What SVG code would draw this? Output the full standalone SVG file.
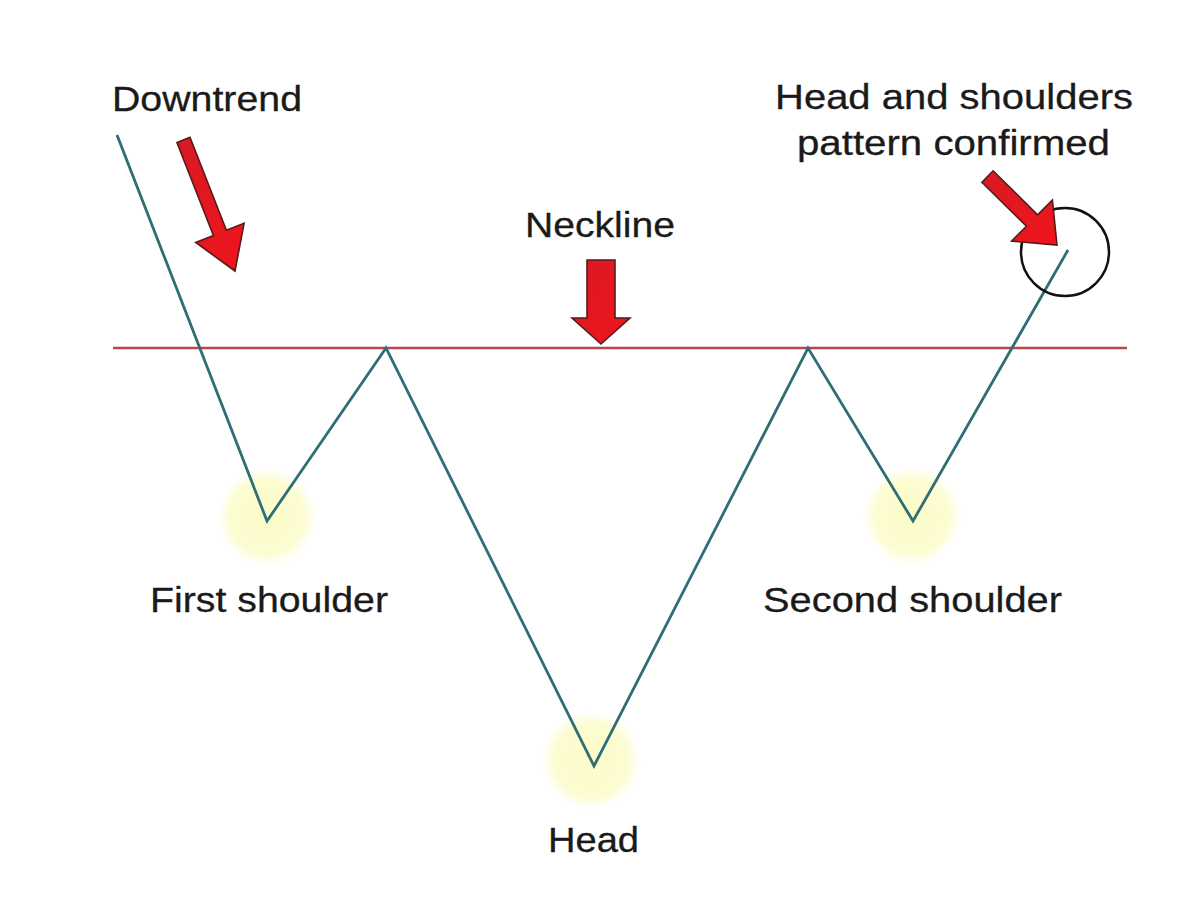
<svg xmlns="http://www.w3.org/2000/svg" width="1200" height="900" viewBox="0 0 1200 900">
<style>
.lbl{font-family:"Liberation Sans",Arial,sans-serif;font-size:35px;fill:#1a1a1a;stroke:#1a1a1a;stroke-width:0.3;text-anchor:start}
.arrow{fill:url(#redg);stroke:#5a1a1a;stroke-width:1.6;stroke-linejoin:miter}
.glow{fill:url(#glowg)}
.price{fill:none;stroke:#2f6e74;stroke-width:2.8;stroke-linejoin:miter}
.neck{stroke:#b8464c;stroke-width:2.4}
</style>
<defs>
<radialGradient id="glowg">
<stop offset="0" stop-color="#fbfbc8"/>
<stop offset="0.75" stop-color="#fcfcce" stop-opacity="0.9"/>
<stop offset="1" stop-color="#fdfde2" stop-opacity="0"/>
</radialGradient>
<linearGradient id="redg" x1="0" y1="0" x2="1" y2="1">
<stop offset="0" stop-color="#d81a24"/>
<stop offset="1" stop-color="#f0141c"/>
</linearGradient>
</defs>
<rect width="1200" height="900" fill="#ffffff"/>
<g id="glows">
<circle class="glow" cx="267" cy="517" r="50"/>
<circle class="glow" cx="591" cy="760" r="50"/>
<circle class="glow" cx="912" cy="516" r="50"/>
</g>
<g id="neckline"><line class="neck" x1="113" y1="348" x2="1127" y2="348"/></g>
<g id="connectors">
<polyline class="price" points="117,135 267,521 386,348 594,766 808,348 913,521 1068,250"/>
</g>
<g id="confirm-circle"><circle cx="1065" cy="252" r="44" fill="none" stroke="#111" stroke-width="2.5"/></g>
<g id="arrow-downtrend"><polygon class="arrow" points="177,142.6 190,137.4 226.4,230.3 244.1,223.3 235,271 195.7,242.5 213.4,235.5"/></g>
<g id="arrow-neckline"><polygon class="arrow" points="587,260 615,260 615,318 630,318 601,344 572,318 587,318"/></g>
<g id="arrow-confirmed"><polygon class="arrow" points="981.9,182.2 993.1,170.8 1037.6,214.8 1052.4,199.9 1057,245 1011.6,241.1 1026.4,226.2"/></g>
<g id="label-downtrend"><text class="lbl" x="112" y="111" textLength="190" lengthAdjust="spacingAndGlyphs">Downtrend</text></g>
<g id="label-confirmed">
<text class="lbl" x="775" y="109" textLength="358" lengthAdjust="spacingAndGlyphs">Head and shoulders</text>
<text class="lbl" x="797" y="155" textLength="313" lengthAdjust="spacingAndGlyphs">pattern confirmed</text>
</g>
<g id="label-neckline"><text class="lbl" x="525" y="237" textLength="150" lengthAdjust="spacingAndGlyphs">Neckline</text></g>
<g id="label-first"><text class="lbl" x="150" y="612" textLength="238" lengthAdjust="spacingAndGlyphs">First shoulder</text></g>
<g id="label-second"><text class="lbl" x="763" y="612" textLength="299" lengthAdjust="spacingAndGlyphs">Second shoulder</text></g>
<g id="label-head"><text class="lbl" x="548" y="852" textLength="91" lengthAdjust="spacingAndGlyphs">Head</text></g>
</svg>
